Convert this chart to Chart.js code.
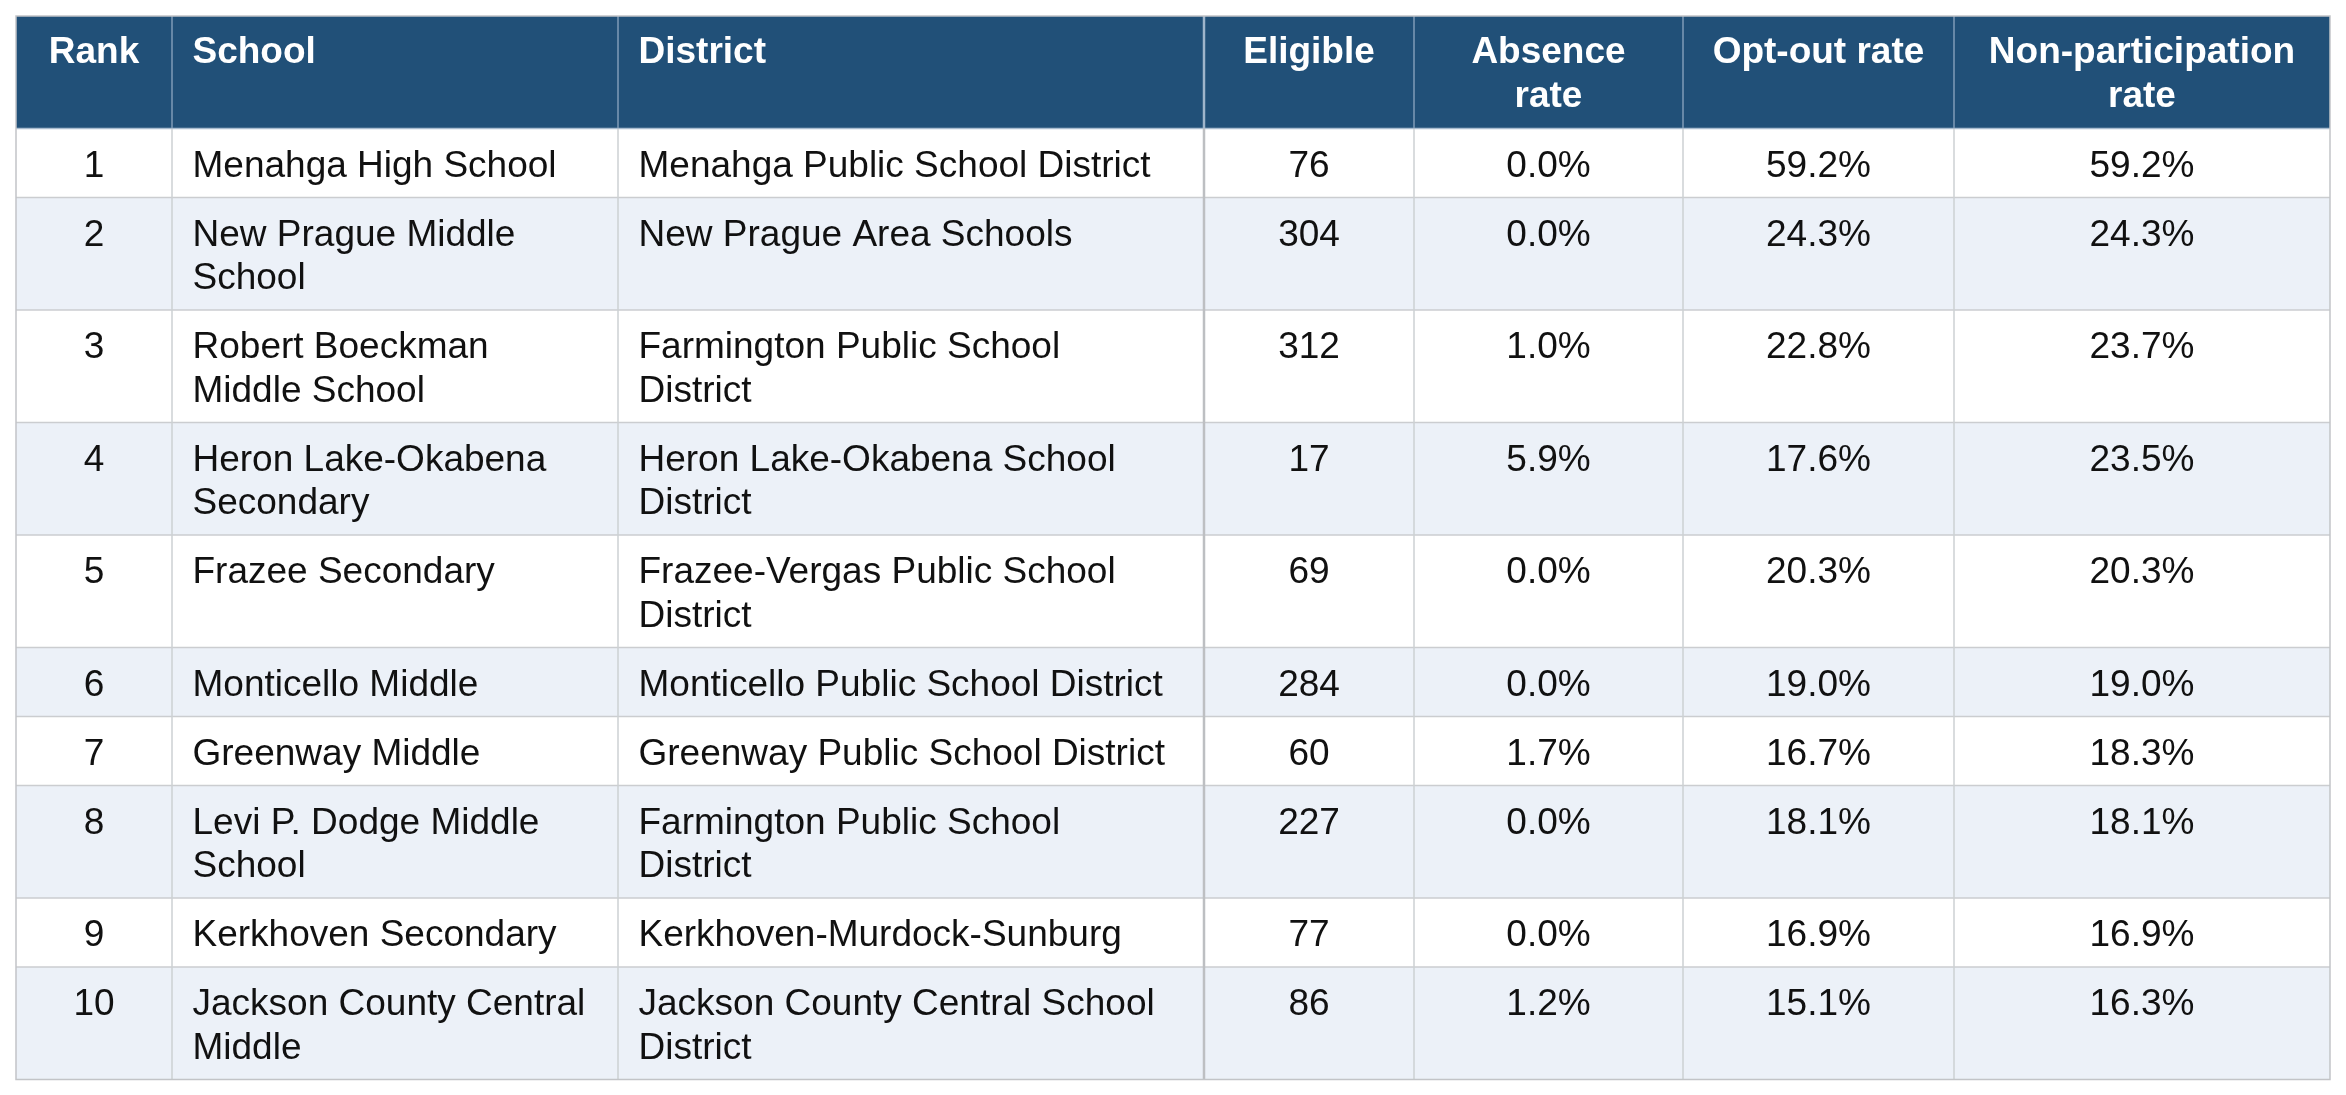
<!DOCTYPE html>
<html>
<head>
<meta charset="utf-8">
<title>Schools with the highest non-participation rate</title>
<script src="https://cdn.jsdelivr.net/npm/chart.js@4.4.1/dist/chart.umd.min.js"></script>
<style>
  html, body { margin: 0; padding: 0; background: #fff; overflow: hidden; font-family: "Liberation Sans", Arial, sans-serif; }
  #wrap { position: relative; width: 2346px; height: 1095px; }
</style>
</head>
<body>
<div id="wrap"><canvas id="table"></canvas></div>
<script>
// Table data
const headers = ['Rank', 'School', 'District', 'Eligible', 'Absence rate', 'Opt-out rate', 'Non-participation rate'];
const ranks = [1, 2, 3, 4, 5, 6, 7, 8, 9, 10];
const schools = [
    'Menahga High School',
    'New Prague Middle School',
    'Robert Boeckman Middle School',
    'Heron Lake-Okabena Secondary',
    'Frazee Secondary',
    'Monticello Middle',
    'Greenway Middle',
    'Levi P. Dodge Middle School',
    'Kerkhoven Secondary',
    'Jackson County Central Middle'
];
const districts = [
    'Menahga Public School District',
    'New Prague Area Schools',
    'Farmington Public School District',
    'Heron Lake-Okabena School District',
    'Frazee-Vergas Public School District',
    'Monticello Public School District',
    'Greenway Public School District',
    'Farmington Public School District',
    'Kerkhoven-Murdock-Sunburg',
    'Jackson County Central School District'
];
const eligible = [76, 304, 312, 17, 69, 284, 60, 227, 77, 86];
const absenceRate = [0.0, 0.0, 1.0, 5.9, 0.0, 0.0, 1.7, 0.0, 0.0, 1.2];
const optOutRate = [59.2, 24.3, 22.8, 17.6, 20.3, 19.0, 16.7, 18.1, 16.9, 15.1];
const nonParticipationRate = [59.2, 24.3, 23.7, 23.5, 20.3, 19.0, 18.3, 18.1, 16.9, 16.3];

// Layout (in scale units, the scales map 1:1 to the canvas)
const colEdges = [16, 172, 618, 1204, 1414, 1683, 1954, 2330];
const colAlign = ['center', 'left', 'left', 'center', 'center', 'center', 'center'];
const tableTop = 16;
const lineH = 43.5;
const padY = 25.5;
const padX = 20.5;
const wrapPad = 24;
const bodyFont = '37px "Liberation Sans", Arial, sans-serif';
const headFont = 'bold 37px "Liberation Sans", Arial, sans-serif';

function wrapText(ctx, text, maxW) {
    const words = String(text).split(' ');
    const lines = [];
    let cur = '';
    words.forEach(w => {
        const test = cur ? cur + ' ' + w : w;
        if (cur && ctx.measureText(test).width > maxW) {
            lines.push(cur);
            cur = w;
        } else {
            cur = test;
        }
    });
    lines.push(cur);
    return lines;
}

const pct = v => v.toFixed(1) + '%';

const tablePlugin = {
    id: 'tablePlugin',
    afterDraw(chart) {
        const ctx = chart.ctx;
        const x = chart.scales.x;
        const y = chart.scales.y;
        const px = v => x.getPixelForValue(v);
        const py = v => y.getPixelForValue(v);

        const bodyRows = ranks.map((r, i) => [
            String(r), schools[i], districts[i], String(eligible[i]),
            pct(absenceRate[i]), pct(optOutRate[i]), pct(nonParticipationRate[i])
        ]);
        const allRows = [headers].concat(bodyRows);

        // wrap cells and work out row heights
        const layout = [];
        let top = tableTop;
        allRows.forEach((cells, ri) => {
            ctx.font = ri === 0 ? headFont : bodyFont;
            const wrapped = cells.map((c, ci) => wrapText(ctx, c, colEdges[ci + 1] - colEdges[ci] - 2 * wrapPad));
            const n = Math.max(...wrapped.map(l => l.length));
            const h = padY + n * lineH;
            layout.push({ top, bottom: top + h, wrapped });
            top += h;
        });
        const tableBottom = top;
        const left = colEdges[0];
        const right = colEdges[colEdges.length - 1];

        ctx.save();
        // backgrounds
        layout.forEach((row, ri) => {
            ctx.fillStyle = ri === 0 ? '#215078' : (ri % 2 === 0 ? '#ecf1f8' : '#ffffff');
            ctx.fillRect(px(left), py(row.top), px(right) - px(left), py(row.bottom) - py(row.top));
        });

        // horizontal lines
        layout.forEach((row, ri) => {
            if (ri === 0) return;
            ctx.strokeStyle = ri === 1 ? '#a9bccf' : '#cbcdd0';
            ctx.lineWidth = 1.5;
            ctx.beginPath();
            ctx.moveTo(px(left), py(row.top));
            ctx.lineTo(px(right), py(row.top));
            ctx.stroke();
        });

        // vertical lines
        const headBottom = layout[0].bottom;
        colEdges.slice(1, -1).forEach((cx, i) => {
            const thick = i === 2;
            ctx.lineWidth = thick ? 2.5 : 1.5;
            ctx.strokeStyle = thick ? '#9fb5cb' : '#7f9bb7';
            ctx.beginPath();
            ctx.moveTo(px(cx), py(tableTop));
            ctx.lineTo(px(cx), py(headBottom));
            ctx.stroke();
            ctx.strokeStyle = thick ? '#bdbfc2' : '#cdd0d3';
            ctx.beginPath();
            ctx.moveTo(px(cx), py(headBottom));
            ctx.lineTo(px(cx), py(tableBottom));
            ctx.stroke();
        });

        // outer border
        ctx.strokeStyle = '#c2c4c7';
        ctx.lineWidth = 1.5;
        ctx.strokeRect(px(left), py(tableTop), px(right) - px(left), py(tableBottom) - py(tableTop));

        // text
        layout.forEach((row, ri) => {
            ctx.font = ri === 0 ? headFont : bodyFont;
            ctx.fillStyle = ri === 0 ? '#ffffff' : '#111111';
            ctx.textBaseline = 'alphabetic';
            const firstBase = ri === 0 ? 47 : 48;
            row.wrapped.forEach((lines, ci) => {
                const l = colEdges[ci];
                const r = colEdges[ci + 1];
                const align = colAlign[ci];
                ctx.textAlign = align;
                const tx = align === 'center' ? (px(l) + px(r)) / 2 : px(l) + padX;
                lines.forEach((line, k) => {
                    ctx.fillText(line, tx, py(row.top + firstBase + k * lineH));
                });
            });
        });
        ctx.restore();
    }
};

new Chart(document.getElementById('table').getContext('2d'), {
    type: 'scatter',
    data: { datasets: [] },
    options: {
        responsive: true,
        maintainAspectRatio: false,
        animation: false,
        devicePixelRatio: 1,
        layout: { padding: 0 },
        scales: {
            x: { type: 'linear', min: 0, max: 2346, display: false },
            y: { type: 'linear', min: 0, max: 1095, reverse: true, display: false }
        },
        plugins: {
            legend: { display: false },
            tooltip: { enabled: false }
        }
    },
    plugins: [tablePlugin]
});
</script>
</body>
</html>
